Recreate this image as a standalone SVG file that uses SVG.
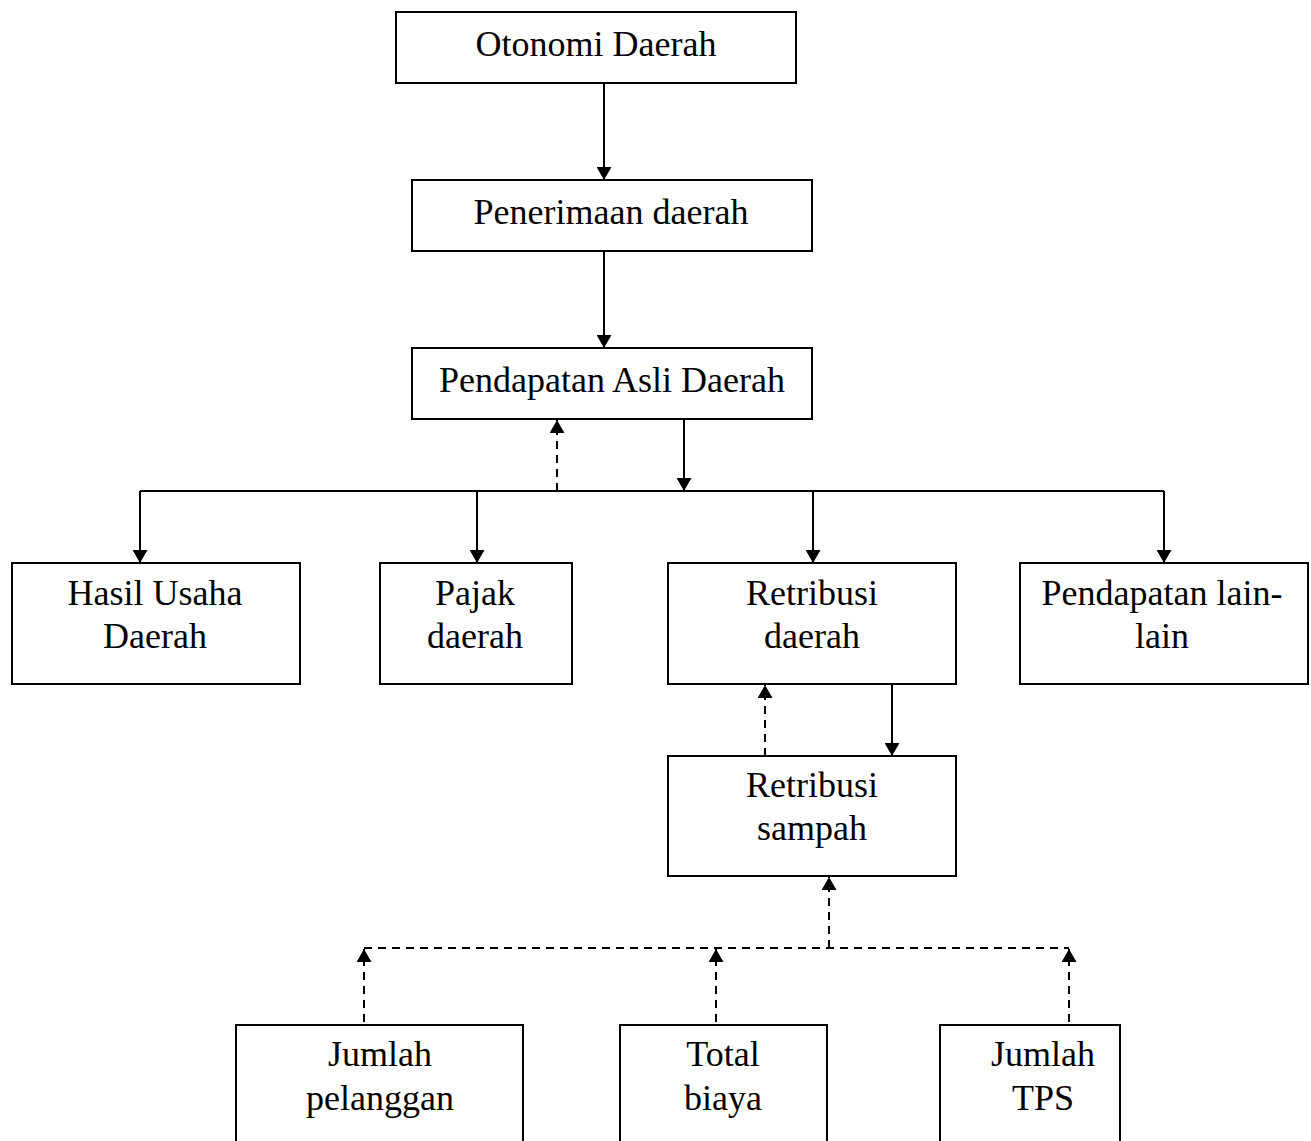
<svg xmlns="http://www.w3.org/2000/svg" width="1311" height="1141" viewBox="0 0 1311 1141">
<style>
.box{fill:#fff;stroke:#000;stroke-width:2}
.t{font-family:"Liberation Serif","Times New Roman",serif;font-size:36px;fill:#000;text-anchor:middle}
.s{fill:none;stroke:#000;stroke-width:2}
.d{fill:none;stroke:#000;stroke-width:2;stroke-dasharray:8,6}
</style>
<defs>
<marker id="ah" markerWidth="13" markerHeight="15" refX="13" refY="7.5" orient="auto" markerUnits="userSpaceOnUse" viewBox="0 0 13 15">
<path d="M0,0 L13,7.5 L0,15 Z" fill="#000"/>
</marker>
</defs>
<rect width="1311" height="1141" fill="#fff"/>
<g id="connectors">
<line class="s" x1="604" y1="83" x2="604" y2="180" marker-end="url(#ah)"/>
<line class="s" x1="604" y1="251" x2="604" y2="348" marker-end="url(#ah)"/>
<line class="s" x1="684" y1="419" x2="684" y2="491" marker-end="url(#ah)"/>
<line class="d" x1="557" y1="491" x2="557" y2="420" marker-end="url(#ah)"/>
<line class="s" x1="140" y1="491" x2="1164" y2="491"/>
<line class="s" x1="140" y1="491" x2="140" y2="563" marker-end="url(#ah)"/>
<line class="s" x1="477" y1="491" x2="477" y2="563" marker-end="url(#ah)"/>
<line class="s" x1="813" y1="491" x2="813" y2="563" marker-end="url(#ah)"/>
<line class="s" x1="1164" y1="491" x2="1164" y2="563" marker-end="url(#ah)"/>
<line class="s" x1="892" y1="684" x2="892" y2="756" marker-end="url(#ah)"/>
<line class="d" x1="765" y1="756" x2="765" y2="685" marker-end="url(#ah)"/>
<line class="d" x1="829" y1="948" x2="829" y2="877" marker-end="url(#ah)"/>
<line class="d" x1="364" y1="948" x2="1069" y2="948"/>
<line class="d" x1="364" y1="1022" x2="364" y2="949" marker-end="url(#ah)"/>
<line class="d" x1="716" y1="1022" x2="716" y2="949" marker-end="url(#ah)"/>
<line class="d" x1="1069" y1="1022" x2="1069" y2="949" marker-end="url(#ah)"/>
</g>
<g id="otonomi"><rect class="box" x="396" y="12" width="400" height="71"/><text class="t" x="596" y="56">Otonomi Daerah</text></g>
<g id="penerimaan"><rect class="box" x="412" y="180" width="400" height="71"/><text class="t" x="611" y="224">Penerimaan daerah</text></g>
<g id="pad"><rect class="box" x="412" y="348" width="400" height="71"/><text class="t" x="612" y="392">Pendapatan Asli Daerah</text></g>
<g id="hasil"><rect class="box" x="12" y="563" width="288" height="121"/><text class="t" x="155" y="605">Hasil Usaha</text><text class="t" x="155" y="648">Daerah</text></g>
<g id="pajak"><rect class="box" x="380" y="563" width="192" height="121"/><text class="t" x="475" y="605">Pajak</text><text class="t" x="475" y="648">daerah</text></g>
<g id="retribusi-daerah"><rect class="box" x="668" y="563" width="288" height="121"/><text class="t" x="812" y="605">Retribusi</text><text class="t" x="812" y="648">daerah</text></g>
<g id="lain"><rect class="box" x="1020" y="563" width="288" height="121"/><text class="t" x="1162" y="605">Pendapatan lain-</text><text class="t" x="1162" y="648">lain</text></g>
<g id="retribusi-sampah"><rect class="box" x="668" y="756" width="288" height="120"/><text class="t" x="812" y="797">Retribusi</text><text class="t" x="812" y="840">sampah</text></g>
<g id="pelanggan"><rect class="box" x="236" y="1025" width="287" height="130"/><text class="t" x="380" y="1066">Jumlah</text><text class="t" x="380" y="1110">pelanggan</text></g>
<g id="biaya"><rect class="box" x="620" y="1025" width="207" height="130"/><text class="t" x="723" y="1066">Total</text><text class="t" x="723" y="1110">biaya</text></g>
<g id="tps"><rect class="box" x="940" y="1025" width="180" height="130"/><text class="t" x="1043" y="1066">Jumlah</text><text class="t" x="1043" y="1110">TPS</text></g>
</svg>
